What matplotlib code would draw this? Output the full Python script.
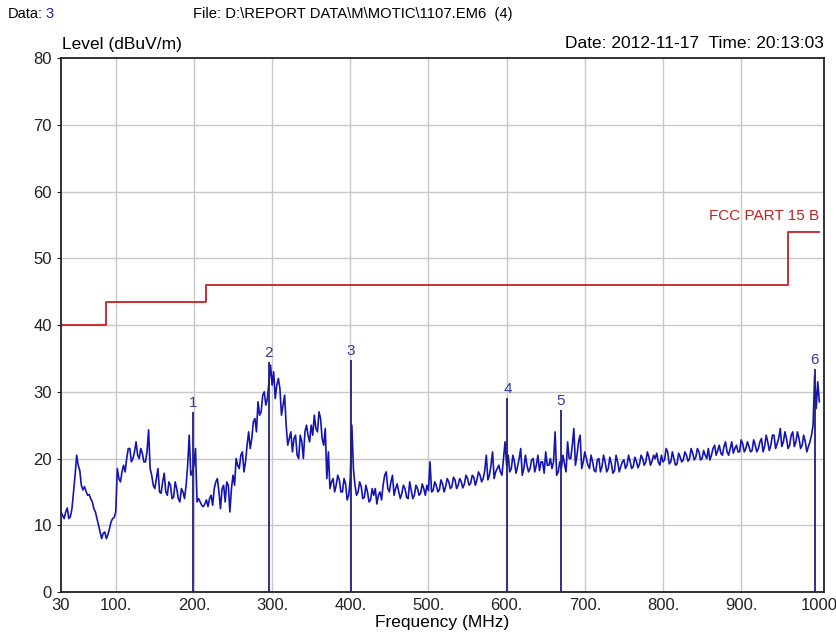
import numpy as np
import matplotlib
matplotlib.use("Agg")
import matplotlib.pyplot as plt

plt.rcParams['font.family'] = ['Liberation Sans', 'DejaVu Sans']

# sweep: readings on a 4 MHz grid (30..998) plus the in-between readings (32..1000)
freq = np.arange(30, 1000, 4)
level = [
    12.0, 11.0, 12.6, 11.3, 15.0, 20.5, 18.2, 15.3, 15.1, 14.6,
    13.5, 12.0, 10.0, 8.0, 9.0, 8.6, 10.5, 11.2, 18.5, 16.5,
    19.0, 20.0, 21.5, 20.0, 22.5, 20.0, 20.8, 19.5, 24.3, 17.5,
    15.5, 18.5, 14.8, 17.8, 14.5, 16.0, 14.2, 15.5, 13.5, 15.0,
    16.0, 23.5, 18.0, 21.5, 14.0, 13.0, 13.2, 12.8, 14.5, 15.5,
    17.0, 12.5, 16.0, 16.5, 12.0, 17.5, 20.0, 18.5, 21.0, 19.5,
    24.0, 23.0, 26.0, 28.5, 27.0, 30.0, 29.0, 34.0, 33.0, 31.0,
    30.5, 28.0, 25.0, 23.0, 21.0, 23.5, 20.0, 22.5, 24.0, 23.5,
    25.0, 26.5, 24.0, 26.0, 22.0, 17.0, 15.5, 17.0, 16.0, 16.8,
    15.0, 16.2, 14.5, 25.0, 16.0, 15.0, 15.8, 14.2, 15.0, 13.8,
    14.5, 13.2, 15.0, 16.0, 18.0, 15.0, 17.5, 15.5, 15.0, 14.8,
    15.5, 14.0, 15.2, 14.5, 15.5, 14.8, 15.5, 16.0, 19.5, 15.2,
    16.0, 15.3, 16.2, 15.8, 16.5, 15.8, 16.8, 16.0, 16.5, 16.2,
    17.0, 16.3, 17.2, 16.8, 17.5, 17.0, 20.5, 17.5, 21.0, 18.0,
    19.0, 17.5, 22.5, 20.5, 18.5, 19.5, 18.8, 21.5, 18.5, 19.0,
    18.5, 20.0, 19.0, 18.2, 19.5, 21.0, 19.0, 18.5, 24.0, 18.0,
    18.5, 19.2, 22.5, 20.0, 24.5, 20.5, 23.5, 19.5, 20.0, 18.5,
    19.5, 18.0, 20.0, 18.8, 19.5, 18.5, 19.2, 18.2, 19.5, 18.8,
    19.8, 19.0, 19.5, 18.8, 19.6, 19.2, 20.0, 19.5, 20.2, 19.6,
    20.0, 19.5, 20.5, 19.8, 21.0, 19.5, 20.0, 19.2, 20.2, 19.8,
    20.5, 20.0, 20.8, 20.2, 21.0, 20.0, 20.5, 21.5, 20.5, 22.0,
    21.2, 20.8, 21.8, 21.0, 21.5, 20.8, 22.0, 21.0, 22.2, 21.5,
    21.8, 21.2, 22.0, 21.5, 23.0, 21.8, 22.5, 22.0, 23.5, 22.2,
    24.5, 22.5, 23.0, 22.0, 24.0, 22.5, 23.0, 22.0, 22.5, 21.8,
    23.5, 32.5, 31.5,
]
level_mid = [
    11.5, 12.0, 11.0, 12.5, 17.5, 19.0, 16.0, 15.8, 14.5, 14.0,
    12.5, 11.0, 9.0, 8.8, 8.0, 9.5, 11.0, 12.0, 17.0, 18.0,
    18.0, 21.5, 19.5, 21.0, 20.5, 21.5, 19.5, 21.0, 18.5, 16.0,
    17.0, 15.0, 16.5, 15.0, 16.5, 14.0, 16.5, 14.0, 15.5, 14.0,
    19.0, 17.5, 19.0, 13.5, 13.5, 12.8, 13.8, 14.0, 13.0, 16.5,
    15.0, 15.5, 13.5, 16.0, 15.5, 16.0, 19.0, 20.5, 18.0, 22.0,
    21.5, 25.5, 24.0, 26.5, 29.5, 28.0, 31.5, 31.0, 29.0, 32.0,
    26.5, 29.5, 22.0, 24.0, 23.0, 20.5, 23.5, 20.0, 25.0, 22.5,
    23.5, 24.5, 27.0, 23.0, 24.5, 21.0, 16.5, 15.0, 17.5, 15.0,
    17.0, 13.8, 17.0, 18.5, 14.5, 16.5, 14.0, 16.0, 13.5, 15.5,
    15.5, 14.5, 13.8, 17.5, 15.5, 16.5, 14.5, 16.2, 14.0, 16.0,
    14.2, 16.5, 14.0, 16.0, 14.5, 16.2, 14.5, 15.2, 15.0, 16.5,
    15.0, 16.8, 15.0, 17.0, 15.5, 17.2, 15.5, 17.0, 15.6, 17.5,
    16.0, 17.5, 16.0, 18.0, 16.5, 18.2, 16.8, 19.0, 17.0, 18.5,
    18.0, 20.0, 19.0, 18.0, 20.5, 17.8, 20.0, 17.5, 20.5, 18.0,
    19.8, 18.0, 20.5, 19.5, 17.8, 19.0, 20.0, 19.5, 17.5, 19.5,
    20.5, 18.0, 20.0, 22.0, 19.0, 22.5, 18.5, 21.0, 19.0, 20.5,
    18.2, 19.8, 18.0, 20.5, 18.0, 20.2, 17.8, 20.5, 18.0, 19.5,
    18.5, 20.5, 18.5, 20.2, 18.6, 20.5, 19.0, 21.0, 19.0, 20.5,
    20.8, 19.0, 19.5, 21.5, 19.2, 21.0, 19.0, 20.8, 19.5, 21.0,
    19.6, 21.5, 19.8, 21.5, 19.8, 21.2, 20.0, 19.8, 21.5, 20.5,
    22.0, 20.5, 22.5, 20.5, 22.5, 21.5, 21.0, 22.8, 21.0, 22.5,
    21.0, 22.8, 21.0, 22.5, 21.0, 23.5, 21.2, 23.5, 21.5, 23.0,
    21.8, 24.0, 21.5, 23.5, 21.8, 24.0, 21.5, 23.5, 21.0, 22.5,
    25.0, 27.5, 28.5,
]

# limit line FCC Part 15 B
limit_freq = [30, 88, 216, 960, 1000]
limit_level = [40, 43.5, 46, 54, 54]

# marker peaks
mark_freq = [199, 296, 401, 601, 669, 994]
mark_level = [27.0, 34.5, 34.8, 29.0, 27.3, 33.4]
mark_label = ['1', '2', '3', '4', '5', '6']

xtick_pos = [30, 100, 200, 300, 400, 500, 600, 700, 800, 900, 1000]
xtick_lab = ['30', '100.', '200.', '300.', '400.', '500.', '600.', '700.', '800.', '900.', '1000']

# interleave grid and in-between readings
trace_x = np.column_stack([freq, freq + 2]).ravel()
trace_y = np.column_stack([level, level_mid]).ravel()

fig = plt.figure(figsize=(8.37, 6.41), dpi=100)
ax = fig.add_axes([0.0729, 0.0764, 0.9116, 0.833])

for g in range(100, 1000, 100):
    ax.axvline(g, color='#c8c8c8', lw=1, zorder=0)
for g in range(10, 80, 10):
    ax.axhline(g, color='#c8c8c8', lw=1, zorder=0)

ax.step(limit_freq, limit_level, where='post', color='#c82020', lw=1.3)
ax.text(1000, 55.3, 'FCC PART 15 B', color='#c82020', fontsize=11, ha='right', va='bottom')

ax.plot(trace_x, trace_y, color='#1414b4', lw=1.2)

ax.vlines(mark_freq, 0, mark_level, color='#20207a', lw=1.3)
for f, v, t in zip(mark_freq, mark_level, mark_label):
    ax.text(f, v + 0.3, t, color='#3838a0', fontsize=11, ha='center', va='bottom')

ax.set_xlim(30, 1006)
ax.set_ylim(0, 80)
ax.set_xticks(xtick_pos)
ax.set_xticklabels(xtick_lab)
ax.set_yticks(range(0, 81, 10))
ax.tick_params(axis='both', labelsize=12, colors='#222222', length=3)
ax.tick_params(axis='x', length=0, pad=4)
for s in ax.spines.values():
    s.set_linewidth(1.3)
    s.set_color('#222222')

ax.set_xlabel('Frequency (MHz)', fontsize=12.5, labelpad=2)

fig.text(8 / 837, 1 - 14 / 641, 'Data:', fontsize=10.5, va='center', ha='left')
fig.text(45 / 837, 1 - 14 / 641, '3', fontsize=10.5, va='center', ha='left', color='#2020a0')
fig.text(193 / 837, 1 - 14 / 641, 'File: D:\\REPORT DATA\\M\\MOTIC\\1107.EM6  (4)', fontsize=10.6, va='center', ha='left')
fig.text(62 / 837, 1 - 45 / 641, 'Level (dBuV/m)', fontsize=12.5, va='center', ha='left')
fig.text(824 / 837, 1 - 44 / 641, 'Date: 2012-11-17  Time: 20:13:03', fontsize=12.5, va='center', ha='right')

fig.savefig('out.png', dpi=100)
